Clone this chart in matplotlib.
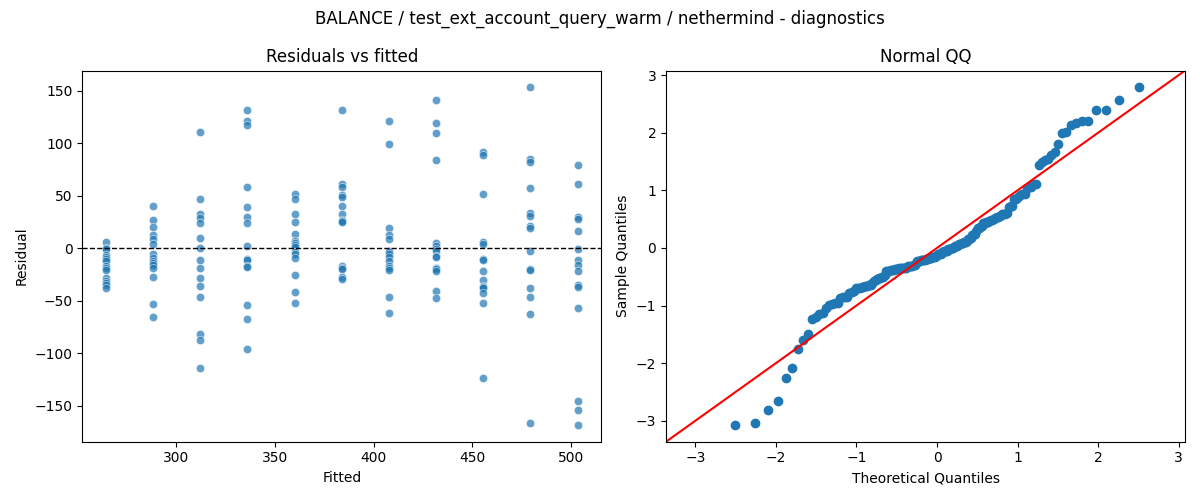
import numpy as np
import matplotlib
matplotlib.use("Agg")
import matplotlib.pyplot as plt
import seaborn as sns
from statistics import NormalDist

# fitted value of each group and the residuals
fitted = [264.6, 288.5, 312.3, 336.2, 360.0, 383.9, 407.8, 431.6, 455.5, 479.3, 503.2]
resid_groups = [
    [6, 0, -1, -6, -8, -10, -12, -17, -19, -21, -28, -31, -33, -35, -38],
    [40, 27, 20, 13, 9, 4, -5, -9, -12, -14, -16, -19, -27, -53, -65],
    [111, 47, 33, 29, 24, 10, 0, -11, -19, -28, -36, -46, -82, -87, -114],
    [132, 121, 117, 58, 39, 30, 24, 2, -10, -11, -17, -18, -54, -67, -96],
    [52, 47, 33, 25, 14, 7, 5, 3, 1, -4, -5, -9, -25, -42, -52],
    [132, 61, 58, 51, 49, 40, 33, 27, 26, 25, -17, -19, -20, -27, -29],
    [121, 99, 19, 13, 9, -3, -4, -5, -8, -12, -17, -19, -21, -46, -62],
    [141, 119, 110, 84, 5, 2, -1, -3, -7, -8, -19, -20, -22, -41, -47],
    [92, 89, 52, 6, 4, -10, -11, -22, -30, -36, -37, -38, -43, -52, -123],
    [153, 85, 82, 57, 34, 31, 21, 19, -3, -20, -21, -38, -46, -63, -166],
    [79, 61, 30, 28, 16, -1, -11, -16, -22, -35, -37, -57, -145, -154, -168],
]

x = []
resid = []
for f, grp in zip(fitted, resid_groups):
    for r in grp:
        x.append(f)
        resid.append(r)
x = np.array(x)
resid = np.array(resid, dtype=float)

fig, axes = plt.subplots(1, 2, figsize=(12, 5), dpi=100)

ax = axes[0]
sns.scatterplot(x=x, y=resid, ax=ax, alpha=0.7)
ax.axhline(0, color="k", linestyle="--", linewidth=1)
ax.set(xlabel="Fitted", ylabel="Residual", title="Residuals vs fitted")

# normal QQ plot of the standardised residuals
ax = axes[1]
n = len(resid)
sample = np.sort((resid - resid.mean()) / resid.std(ddof=1))
nd = NormalDist()
theo = np.array([nd.inv_cdf(i / (n + 1)) for i in range(1, n + 1)])
ax.plot(theo, sample, "o", color="C0", markersize=6)
xl = ax.get_xlim()
yl = ax.get_ylim()
end = [min(xl[0], yl[0]), max(xl[1], yl[1])]
ax.plot(end, end, "r-")
ax.set_xlim(end)
ax.set_ylim(end)
ax.set(xlabel="Theoretical Quantiles", ylabel="Sample Quantiles", title="Normal QQ")

fig.suptitle("BALANCE / test_ext_account_query_warm / nethermind - diagnostics")
fig.tight_layout()
fig.savefig("out.png")
